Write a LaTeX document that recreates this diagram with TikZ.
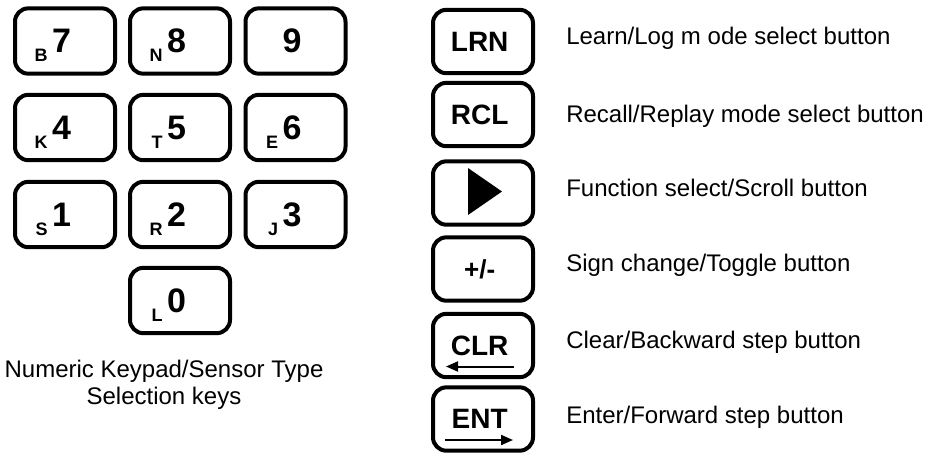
\documentclass[tikz,border=0pt]{standalone}
\usepackage{fontspec}
\setmainfont{Liberation Sans}
\usetikzlibrary{arrows.meta}

% small sensor letter set low, left of the key digit
\newcommand{\sensor}[1]{\smash{\llap{\raisebox{-6.75pt}{\fontsize{13.5}{13.5}\selectfont #1}\hspace{3.5pt}}}}

\begin{document}
\begin{tikzpicture}[x=0.75pt,y=-0.75pt]
\tikzstyle{every node}+=[inner sep=0pt]
\tikzstyle{key}=[draw, line width=3pt, rounded corners=10pt, minimum width=75pt, minimum height=49pt, execute at end node=\hspace{5pt}, font=\bfseries\fontsize{25.5}{25.5}\selectfont]
\tikzstyle{btn}=[key, minimum height=47.5pt, font=\bfseries\fontsize{21}{21}\selectfont]
\tikzstyle{desc}=[anchor=base west, font=\fontsize{18}{18}\selectfont]
\useasboundingbox (0,0) rectangle (928,455);
% numeric keypad
\node[key] (k7) at (65,41) {\sensor{B}7};
\node[key] (k8) at (180,41) {\sensor{N}8};
\node[key] (k9) at (295.5,41) {9};
\node[key] (k4) at (65,127.5) {\sensor{K}4};
\node[key] (k5) at (180,127.5) {\sensor{T}5};
\node[key] (k6) at (295.5,127.5) {\sensor{E}6};
\node[key] (k1) at (65,214.5) {\sensor{S}1};
\node[key] (k2) at (180,214.5) {\sensor{R}2};
\node[key] (k3) at (295.5,214.5) {\sensor{J}3};
\node[key] (k0) at (180,300.5) {\sensor{L}0};
\node[align=center, font=\fontsize{18}{20.25}\selectfont] (cap) at (164,385) {Numeric Keypad/Sensor Type\\Selection keys};
% function buttons
\node[btn] (lrn) at (483,41.5) {LRN};
\node[btn] (rcl) at (483,114.5) {RCL};
\node[btn] (fn) at (483,193) {};
\node[btn, font=\bfseries\fontsize{19.5}{19.5}\selectfont] (sgn) at (483,269) {+/-};
\node[btn] (clr) at (483,345.5) {CLR};
\node[btn] (ent) at (483,419) {ENT};
\fill ([shift={(-15,-25)}]fn.center) -- ([shift={(19,-1.5)}]fn.center) -- ([shift={(-15,22)}]fn.center) -- cycle;
\draw[line width=1.5pt, -{Triangle[length=9pt,width=7.5pt]}] ([shift={(31,21)}]clr.center) -- ([shift={(-37,21)}]clr.center);
\draw[line width=1.5pt, -{Triangle[length=9pt,width=7.5pt]}] ([shift={(-38,21)}]ent.center) -- ([shift={(30,21)}]ent.center);
% descriptions
\node[desc] (dlrn) at (566,44) {Learn/Log m ode select button};
\node[desc] (drcl) at (566,122) {Recall/Replay mode select button};
\node[desc] (dfn) at (566,196) {Function select/Scroll button};
\node[desc] (dsgn) at (566,271) {Sign change/Toggle button};
\node[desc] (dclr) at (566,348) {Clear/Backward step button};
\node[desc] (dent) at (566,423) {Enter/Forward step button};
\end{tikzpicture}
\end{document}
